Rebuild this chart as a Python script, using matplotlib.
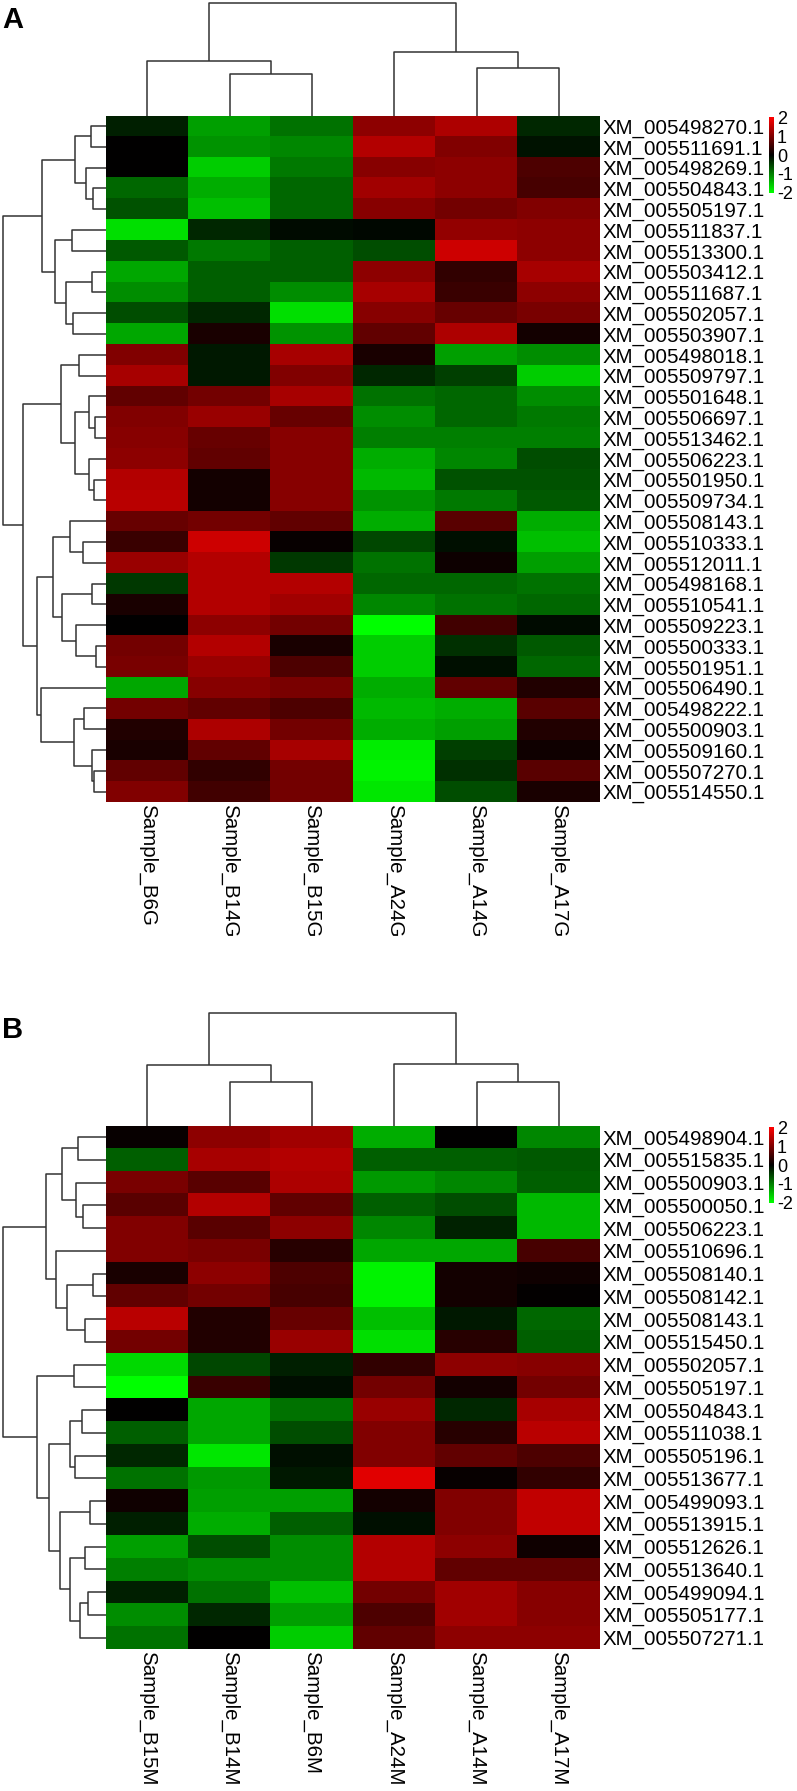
import numpy as np
import matplotlib.pyplot as plt
from matplotlib.colors import LinearSegmentedColormap

plt.rcParams['font.family'] = ['Liberation Sans', 'DejaVu Sans']

W, H = 797, 1791

# ---------------- panel A ----------------
samples_a = ['Sample_B6G', 'Sample_B14G', 'Sample_B15G', 'Sample_A24G', 'Sample_A14G', 'Sample_A17G']
genes_a = ['XM_005498270.1', 'XM_005511691.1', 'XM_005498269.1', 'XM_005504843.1', 'XM_005505197.1',
           'XM_005511837.1', 'XM_005513300.1', 'XM_005503412.1', 'XM_005511687.1', 'XM_005502057.1',
           'XM_005503907.1', 'XM_005498018.1', 'XM_005509797.1', 'XM_005501648.1', 'XM_005506697.1',
           'XM_005513462.1', 'XM_005506223.1', 'XM_005501950.1', 'XM_005509734.1', 'XM_005508143.1',
           'XM_005510333.1', 'XM_005512011.1', 'XM_005498168.1', 'XM_005510541.1', 'XM_005509223.1',
           'XM_005500333.1', 'XM_005501951.1', 'XM_005506490.1', 'XM_005498222.1', 'XM_005500903.1',
           'XM_005509160.1', 'XM_005507270.1', 'XM_005514550.1']
values_a = [
    [-0.25, -1.25, -0.9, 1.1, 1.35, -0.3],
    [0.0, -1.15, -1.05, 1.4, 1.0, -0.15],
    [0.0, -1.6, -0.95, 1.05, 1.1, 0.6],
    [-0.8, -1.35, -0.8, 1.25, 1.1, 0.55],
    [-0.65, -1.5, -0.8, 1.05, 0.9, 1.0],
    [-1.75, -0.3, -0.08, -0.06, 1.15, 1.1],
    [-0.7, -0.95, -0.75, -0.6, 1.6, 1.1],
    [-1.3, -0.75, -0.75, 1.1, 0.38, 1.3],
    [-1.1, -0.75, -1.1, 1.3, 0.45, 1.1],
    [-0.6, -0.3, -1.75, 1.05, 0.8, 0.95],
    [-1.3, 0.2, -1.15, 0.75, 1.35, 0.15],
    [1.0, -0.2, 1.3, 0.2, -1.25, -1.1],
    [1.3, -0.2, 1.0, -0.3, -0.5, -1.6],
    [0.75, 0.9, 1.3, -0.9, -0.8, -1.1],
    [1.0, 1.2, 0.8, -1.1, -0.8, -0.95],
    [1.05, 0.8, 1.05, -1.0, -1.0, -1.0],
    [1.1, 0.75, 1.05, -1.35, -1.05, -0.6],
    [1.4, 0.15, 1.05, -1.45, -0.65, -0.65],
    [1.45, 0.15, 1.05, -1.15, -0.95, -0.7],
    [0.8, 0.9, 0.75, -1.35, 0.7, -1.35],
    [0.45, 1.6, 0.06, -0.55, -0.12, -1.5],
    [1.2, 1.4, -0.45, -0.9, 0.1, -1.25],
    [-0.45, 1.4, 1.4, -0.8, -0.8, -0.9],
    [0.2, 1.4, 1.25, -1.05, -0.9, -0.8],
    [0.0, 1.1, 0.9, -2.0, 0.5, -0.08],
    [0.9, 1.4, 0.2, -1.6, -0.38, -0.7],
    [0.95, 1.2, 0.6, -1.6, -0.12, -0.8],
    [-1.3, 1.05, 0.95, -1.35, 0.75, 0.25],
    [0.9, 0.75, 0.6, -1.45, -1.35, 0.7],
    [0.25, 1.35, 0.9, -1.35, -1.25, 0.25],
    [0.2, 0.75, 1.3, -1.85, -0.5, 0.12],
    [0.75, 0.38, 0.9, -1.9, -0.38, 0.7],
    [1.0, 0.5, 0.9, -1.8, -0.6, 0.2],
]
# merges: (child1, child2, height); leaves 0..n-1, new clusters n, n+1, ...
row_link_a = [
    (0, 1, 15), (3, 4, 13.3), (2, 34, 20), (33, 35, 31), (5, 6, 34), (7, 8, 14),
    (9, 10, 33.3), (38, 39, 40.3), (37, 40, 51.3), (36, 41, 64.3), (11, 12, 26.7),
    (14, 15, 11), (13, 44, 16.7), (17, 18, 11.7), (16, 46, 17.3), (45, 47, 31),
    (43, 48, 44.7), (20, 21, 22.7), (19, 50, 35.7), (22, 23, 14.3), (25, 26, 10),
    (24, 53, 30.3), (52, 54, 44), (51, 55, 52.7), (28, 29, 21.7), (31, 32, 12),
    (30, 58, 14), (57, 59, 32), (27, 60, 65.3), (56, 61, 69.3), (49, 62, 82.7),
    (42, 63, 102.7),
]
col_link_a = [(1, 2, 41.7), (0, 6, 54.7), (4, 5, 47.7), (3, 8, 63.7), (7, 9, 112.7)]

# ---------------- panel B ----------------
samples_b = ['Sample_B15M', 'Sample_B14M', 'Sample_B6M', 'Sample_A24M', 'Sample_A14M', 'Sample_A17M']
genes_b = ['XM_005498904.1', 'XM_005515835.1', 'XM_005500903.1', 'XM_005500050.1', 'XM_005506223.1',
           'XM_005510696.1', 'XM_005508140.1', 'XM_005508142.1', 'XM_005508143.1', 'XM_005515450.1',
           'XM_005502057.1', 'XM_005505197.1', 'XM_005504843.1', 'XM_005511038.1', 'XM_005505196.1',
           'XM_005513677.1', 'XM_005499093.1', 'XM_005513915.1', 'XM_005512626.1', 'XM_005513640.1',
           'XM_005499094.1', 'XM_005505177.1', 'XM_005507271.1']
values_b = [
    [0.06, 1.1, 1.25, -1.35, 0.0, -1.05],
    [-0.75, 1.3, 1.4, -0.75, -0.75, -0.7],
    [0.95, 0.7, 1.35, -1.2, -1.05, -0.75],
    [0.7, 1.4, 0.75, -0.75, -0.6, -1.45],
    [1.0, 0.7, 1.1, -1.05, -0.28, -1.45],
    [1.0, 0.95, 0.3, -1.3, -1.3, 0.55],
    [0.2, 1.1, 0.6, -1.9, 0.15, 0.12],
    [0.75, 0.9, 0.55, -1.9, 0.15, 0.02],
    [1.45, 0.25, 0.8, -1.5, -0.2, -0.8],
    [0.9, 0.25, 1.2, -1.75, 0.3, -0.75],
    [-1.7, -0.55, -0.25, 0.38, 1.1, 1.05],
    [-2.0, 0.45, -0.1, 0.9, 0.15, 0.9],
    [0.0, -1.3, -0.9, 1.2, -0.3, 1.3],
    [-0.75, -1.3, -0.6, 1.0, 0.3, 1.45],
    [-0.3, -1.8, -0.12, 1.0, 0.75, 0.6],
    [-0.9, -1.2, -0.2, 1.75, 0.06, 0.38],
    [0.12, -1.25, -1.25, 0.15, 1.0, 1.5],
    [-0.25, -1.35, -0.75, -0.12, 1.0, 1.5],
    [-1.25, -0.6, -1.1, 1.4, 1.1, 0.12],
    [-1.0, -1.1, -1.1, 1.4, 0.75, 0.75],
    [-0.25, -0.9, -1.5, 0.9, 1.25, 1.05],
    [-1.1, -0.3, -1.25, 0.6, 1.25, 1.05],
    [-0.9, 0.0, -1.6, 0.75, 1.1, 1.1],
]
row_link_b = [
    (0, 1, 28.3), (3, 4, 22.7), (2, 24, 30), (23, 25, 43.7), (6, 7, 12.7), (8, 9, 21),
    (27, 28, 39.3), (5, 29, 50), (26, 30, 60.3), (10, 11, 32), (12, 13, 23.7),
    (14, 15, 31), (33, 34, 35.7), (16, 17, 16), (18, 19, 21), (20, 21, 18),
    (38, 22, 26), (37, 39, 36), (36, 40, 46), (35, 41, 57), (32, 42, 69.3),
    (31, 43, 102.7),
]
col_link_b = [(1, 2, 43.7), (0, 6, 60.7), (4, 5, 43.7), (3, 8, 61.7), (7, 9, 112.7)]

cbar_ticks = [2, 1, 0, -1, -2]
cbar_labels = ['2', '1', '0', '-1', '-2']

cmap = LinearSegmentedColormap.from_list('gkr', ['#00ff00', '#000000', '#ff0000'])
line_col = '#333333'


def px_axes(fig, x0, y0, x1, y1):
    return fig.add_axes([x0 / W, 1 - y1 / H, (x1 - x0) / W, (y1 - y0) / H])


def dendro_segments(link, n):
    pos = {i: float(i) for i in range(n)}
    hgt = {i: 0.0 for i in range(n)}
    segs = []
    for k, (a, b, h) in enumerate(link):
        segs.append(([hgt[a], h, h, hgt[b]], [pos[a], pos[a], pos[b], pos[b]]))
        pos[n + k] = (pos[a] + pos[b]) / 2
        hgt[n + k] = h
    return segs


def draw_panel(fig, letter, top, row_h, samples, genes, values, row_link, col_link):
    left, right = 106, 600
    nr, nc = len(genes), len(samples)
    bottom = top + nr * row_h

    ax = px_axes(fig, left, top, right, bottom)
    ax.imshow(np.array(values), cmap=cmap, vmin=-2, vmax=2, aspect='auto', interpolation='nearest')
    ax.set_xticks(range(nc))
    ax.set_xticklabels(samples, rotation=-90, fontsize=14.8)
    ax.set_yticks(range(nr))
    ax.set_yticklabels(genes, fontsize=14.8)
    ax.yaxis.tick_right()
    ax.tick_params(length=0, pad=1.5)
    for s in ax.spines.values():
        s.set_visible(False)

    # row dendrogram (root on the left)
    axr = px_axes(fig, 0, top, left, bottom)
    for hs, ps in dendro_segments(row_link, nr):
        axr.plot(hs, ps, color=line_col, lw=1.1, solid_capstyle='butt')
    axr.set_xlim(left, 0)
    axr.set_ylim(nr - 0.5, -0.5)
    axr.axis('off')

    # column dendrogram
    axc = px_axes(fig, left, top - 116, right, top)
    for hs, ps in dendro_segments(col_link, nc):
        axc.plot(ps, hs, color=line_col, lw=1.1, solid_capstyle='butt')
    axc.set_xlim(-0.5, nc - 0.5)
    axc.set_ylim(0, 116)
    axc.axis('off')

    # colour key
    axk = px_axes(fig, 769, top, 774, top + 78)
    grad = np.linspace(2, -2, 200)[:, None]
    axk.imshow(grad, cmap=cmap, vmin=-2, vmax=2, aspect='auto', extent=[0, 1, -2, 2])
    axk.set_ylim(-2.05, 2.1)
    axk.set_xticks([])
    axk.set_yticks(cbar_ticks)
    axk.set_yticklabels(cbar_labels, fontsize=13)
    axk.yaxis.tick_right()
    axk.tick_params(length=0, pad=2)
    for s in axk.spines.values():
        s.set_visible(False)

    fig.text(2 / W, 1 - (top - 96) / H, letter, fontsize=21, fontweight='bold', va='center', ha='left')


fig = plt.figure(figsize=(W / 100, H / 100), dpi=100)
draw_panel(fig, 'A', 115.7, 20.8, samples_a, genes_a, values_a, row_link_a, col_link_a)
draw_panel(fig, 'B', 1125.7, 22.75, samples_b, genes_b, values_b, row_link_b, col_link_b)
fig.savefig('out.png', dpi=100)
